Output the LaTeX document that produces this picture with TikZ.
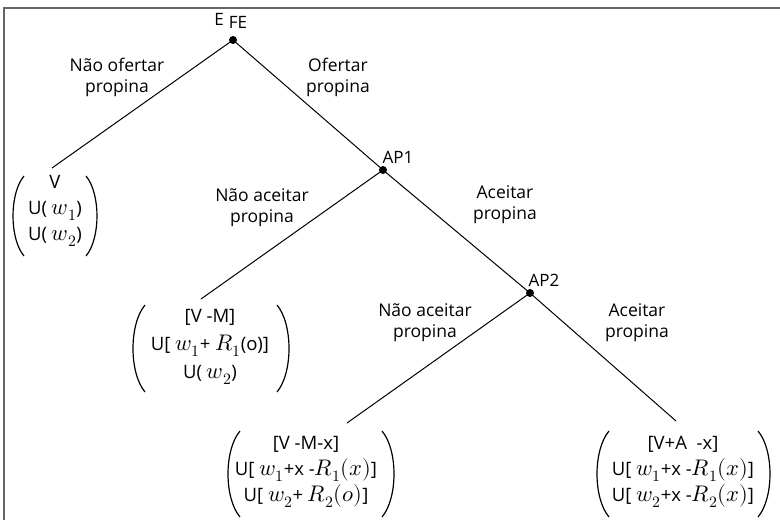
\documentclass[tikz,border=0pt]{standalone}
\usepackage{fontspec}
\usepackage{unicode-math}
\setmainfont{Open Sans}
\setmathfont{Latin Modern Math}[Scale=1.22]
\tikzset{
  dot/.style={circle, fill=black, inner sep=0pt, minimum size=8pt},
  br/.style={line width=1pt},
  parenline/.style={line width=1.2pt},
  lab/.style={align=center, inner sep=0pt, font=\fontsize{17.5}{21}\selectfont},
  leaf/.style={align=center, inner sep=0pt, font=\fontsize{18.5}{26}\selectfont},
  pl/.style={inner sep=0pt, font=\fontsize{17}{20}\selectfont},
}
% tip x, bulge x, top y, bottom y
\newcommand\parenarc[4]{%
  \draw[parenline] (#1,#3) .. controls ({#2-(#1-#2)/3},{#3+0.22*(#4-#3)}) and ({#2-(#1-#2)/3},{#4-0.22*(#4-#3)}) .. (#1,#4);}
\begin{document}
\begin{tikzpicture}[x=1pt,y=-1pt]
\useasboundingbox (0,0) rectangle (780,520);
\draw[line width=2pt, black!60] (4,520) -- (4,8) -- (780,8);
% decision nodes
\node[dot] (E) at (233,40) {};
\node[dot] (AP1) at (383,170) {};
\node[dot] (AP2) at (530,293) {};
\node[pl] (Elab) at (219,19) {E};
\node[pl] (FElab) at (238,22) {FE};
\node[pl] (AP1lab) at (398,157) {AP1};
\node[pl] (AP2lab) at (544,280) {AP2};
% leaf ends
\coordinate (l1) at (52,168);
\coordinate (l2) at (201,299);
\coordinate (l3) at (347,423);
\coordinate (l4) at (676,421);
% branches
\draw[br] (E.center) -- (l1);
\draw[br] (E.center) -- (AP1.center);
\draw[br] (AP1.center) -- (l2);
\draw[br] (AP1.center) -- (AP2.center);
\draw[br] (AP2.center) -- (l3);
\draw[br] (AP2.center) -- (l4);
% branch labels
\node[lab] (b1) at (117,77) {Não ofertar\\propina};
\node[lab] (b2) at (338,77) {Ofertar\\propina};
\node[lab] (b3) at (262,208) {Não aceitar\\propina};
\node[lab] (b4) at (505,205) {Aceitar\\propina};
\node[lab] (b5) at (425,323) {Não aceitar\\propina};
\node[lab] (b6) at (637,323) {Aceitar\\propina};
% payoffs
\node[leaf] (p1) at (55,211) {V\\U( $w_1$)\\U( $w_2$)};
\parenarc{24}{13}{176}{256}
\parenarc{86}{97}{176}{256}
\node[leaf, font=\fontsize{18.5}{28}\selectfont] (p2) at (210,347) {[V -M]\\U[ $w_1$+ $R_1$(o)]\\U( $w_2$)};
\parenarc{145}{133}{305}{392}
\parenarc{277}{289}{305}{392}
\node[leaf] (p3) at (306,472) {[V -M-x]\\U[ $w_1$+x -$R_1(x)$]\\U[ $w_2$+ $R_2(o)$]};
\parenarc{240}{228}{431}{517}
\parenarc{382}{394}{431}{517}
\node[leaf] (p4) at (683,472) {[V+A\ \ -x]\\U[ $w_1$+x -$R_1(x)$]\\U[ $w_2$+x -$R_2(x)$]};
\parenarc{609}{597}{431}{517}
\parenarc{758}{770}{431}{517}
\end{tikzpicture}
\end{document}
